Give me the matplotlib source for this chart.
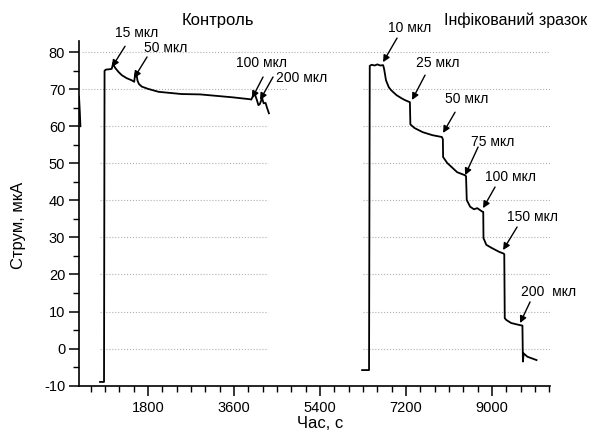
import numpy as np
import matplotlib
matplotlib.use("Agg")
from matplotlib import pyplot as plt
from matplotlib.ticker import MultipleLocator

plt.rcParams['font.family'] = ['Liberation Sans', 'DejaVu Sans']
plt.rcParams['axes.unicode_minus'] = False

# control sample: time (s) and current (uA)
t_ctrl = [356, 372, 385, np.nan,
          795, 879, 890, 920, 1000, 1040, 1060, 1075, 1090, 1110, 1180, 1250,
          1350, 1460, 1510, 1530, 1550, 1580, 1610, 1670, 1800, 2020, 2500,
          2890, 3580, 3930, 3960, 3990, 4010, 4040, 4080, 4110, 4140, 4170,
          4185, 4200, 4220, 4260, 4290, 4330]
i_ctrl = [68.0, 64.0, 60.0, np.nan,
          -9.0, -9.0, 75.0, 75.3, 75.4, 75.5, 76.5, 77.2, 76.3, 75.8, 74.7, 73.8,
          73.0, 72.4, 72.0, 74.0, 74.7, 72.3, 71.4, 70.7, 70.1, 69.3, 68.7,
          68.6, 67.8, 67.3, 67.2, 68.0, 69.3, 68.5, 67.0, 65.7, 66.0, 67.0,
          68.0, 67.0, 66.2, 66.3, 65.0, 63.5]

# infected sample
t_inf = [6280, 6425, 6440, 6480, 6540, 6600, 6660, 6720, 6740, 6780, 6840,
         6890, 7000, 7100, 7170, 7260, 7280, 7290, 7380, 7550, 7750, 7950,
         7970, 7975, 8060, 8270, 8430, 8455, 8470, 8540, 8620, 8690, 8790,
         8815, 8820, 8880, 9000, 9150, 9230, 9255, 9265, 9300, 9400, 9560,
         9635, 9645, 9660, 9740, 9930]
i_inf = [-5.8, -5.8, 76.3, 76.6, 76.4, 76.7, 76.4, 76.5, 75.5, 72.4, 70.5,
         69.7, 68.4, 67.6, 67.1, 66.6, 66.5, 60.5, 59.5, 58.4, 57.6, 57.1,
         56.5, 51.7, 50.1, 47.6, 46.8, 46.5, 40.1, 38.3, 37.6, 37.9, 37.0,
         36.9, 29.8, 28.0, 27.1, 26.1, 25.7, 25.5, 8.2, 7.7, 6.9, 6.4,
         6.2, -3.5, -1.3, -2.2, -3.1]

# labels: text, text position, arrow tail, arrow tip
labels = ["15 мкл", "50 мкл", "100 мкл", "200 мкл",
          "10 мкл", "25 мкл", "50 мкл", "75 мкл", "100 мкл", "150 мкл", "200  мкл"]
label_xy = [(1570, 85.1), (2177, 81.1), (4165, 77.0), (5023, 73.0),
            (7283, 86.5), (7869, 77.0), (8476, 67.3), (9020, 55.7),
            (9376, 46.3), (9837, 35.5), (10192, 15.3)]
arrow_from = [(1319, 81.6), (1779, 78.7), (4207, 73.3), (4416, 73.3),
              (7011, 83.8), (7597, 73.8), (8225, 63.8), (8707, 54.4),
              (9062, 43.6), (9523, 32.8), (9795, 12.6)]
arrow_to = [(1046, 76.0), (1507, 73.0), (3977, 67.6), (4144, 67.1),
            (6718, 77.3), (7325, 67.1), (7974, 58.2), (8435, 46.8),
            (8811, 37.9), (9230, 26.6), (9586, 6.9)]

fig = plt.figure(figsize=(5.96, 4.40), dpi=100)
ax = fig.add_axes([0.1326, 0.1227, 0.7903, 0.784])

# grid segments (the original has broken dotted lines)
gcol = '#b0b0b0'
ax.hlines(80, 418, 10213, colors=gcol, linestyles=':', lw=0.8)
ax.hlines(70, 418, 4730, colors=gcol, linestyles=':', lw=0.8)
for yv in [60, 50, 40, 30, 20, 10, 0]:
    ax.hlines(yv, 795, 4311, colors=gcol, linestyles=':', lw=0.8)
for yv in [70, 60, 50, 40, 30, 20, 10, 0]:
    ax.hlines(yv, 6300, 10213, colors=gcol, linestyles=':', lw=0.8)

ax.plot(t_ctrl, i_ctrl, color='black', lw=1.3)
ax.plot(t_inf, i_inf, color='black', lw=1.3)

for s, p, a, b in zip(labels, label_xy, arrow_from, arrow_to):
    ax.text(p[0], p[1], s, ha='center', va='center', fontsize=10, clip_on=False)
    ax.annotate('', xy=b, xytext=a,
                arrowprops=dict(arrowstyle='-|>', color='black', lw=1,
                                mutation_scale=10, shrinkA=0, shrinkB=0),
                annotation_clip=False)

ax.text(3265, 88.6, "Контроль", ha='center', va='center', fontsize=12, clip_on=False)
ax.text(9500, 88.6, "Інфікований зразок", ha='center', va='center', fontsize=11.5, clip_on=False)

ax.set_xlim(356, 10213)
ax.set_ylim(-10.1, 83)
ax.xaxis.set_major_locator(MultipleLocator(1800))
ax.xaxis.set_minor_locator(MultipleLocator(300))
ax.yaxis.set_major_locator(MultipleLocator(10))
ax.yaxis.set_minor_locator(MultipleLocator(5))
ax.tick_params(which='major', direction='out', length=7, width=1.1, labelsize=10.5, pad=3)
ax.tick_params(which='minor', direction='out', length=4, width=1.0)
ax.tick_params(axis='x', which='major', pad=4)

for side in ['top', 'right']:
    ax.spines[side].set_visible(False)
for side in ['left', 'bottom']:
    ax.spines[side].set_linewidth(1.2)

ax.set_xlabel("Час, с", fontsize=12)
ax.set_ylabel("Струм, мкА", fontsize=12)
ax.xaxis.set_label_coords(0.512, -0.088)
ax.yaxis.set_label_coords(-0.112, 0.465)

fig.savefig("out.png", dpi=100)
